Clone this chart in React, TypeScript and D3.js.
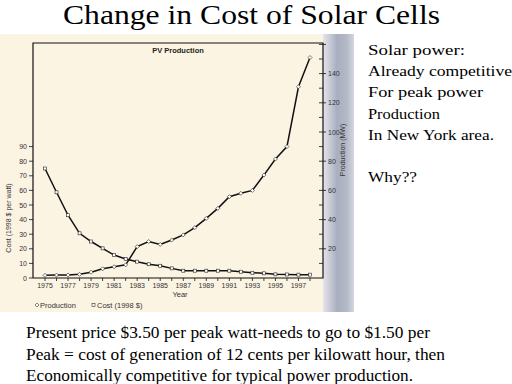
import * as d3 from "d3";

const years = [1975, 1976, 1977, 1978, 1979, 1980, 1981, 1982, 1983, 1984, 1985, 1986,
  1987, 1988, 1989, 1990, 1991, 1992, 1993, 1994, 1995, 1996, 1997, 1998];
const production = [1.8, 2.0, 2.1, 2.5, 4.0, 6.3, 7.7, 9.0, 21.5, 25, 23, 26,
  29.5, 34.5, 40.8, 47.7, 55.7, 58, 60, 70.5, 81.5, 90, 131, 151];
const cost = [75, 58.7, 43, 30.6, 25, 20.3, 15.7, 13, 11.2, 9.4, 8.4, 6.6,
  5, 5, 5, 5, 5, 4.3, 3.6, 3.2, 2.5, 2.4, 2.3, 2.3];
const yearLabels = [1975, 1977, 1979, 1981, 1983, 1985, 1987, 1989, 1991, 1993, 1995, 1997];
const costTicks = [0, 10, 20, 30, 40, 50, 60, 70, 80, 90];
const prodTicks = [20, 40, 60, 80, 100, 120, 140];
const sideNotes = ["Solar power:", "Already competitive", "For peak power", "Production", "In New York area.", "", "Why??"];
const sideWidths = [97, 144, 115, 72, 126, 0, 49];
const footNotes = [
  "Present price $3.50 per peak watt-needs to go to $1.50 per",
  "Peak = cost of generation of 12 cents per kilowatt hour, then",
  "Economically competitive for typical power production.",
];
const footWidths = [404, 419, 387];

const serif = "'Liberation Serif', 'Times New Roman', serif";
const sans = "'Liberation Sans', Arial, sans-serif";

export default function App() {
  const left = 33, right = 323, top = 43, bottom = 278;
  const x = d3.scaleLinear().domain([1975, 1998]).range([45, 310]);
  const yCost = d3.scaleLinear().domain([0, 90]).range([bottom, bottom - 9 * 14.6]);
  const yProd = d3.scaleLinear().domain([0, 160]).range([bottom, bottom - 16 * 14.6]);

  const prodLine = d3.line<number>().x((d, i) => x(years[i])).y(d => yProd(d));
  const costLine = d3.line<number>().x((d, i) => x(years[i])).y(d => yCost(d));
  const minorProd = d3.range(10, 161, 10);

  return (
    <svg width={512} height={384} style={{ position: "absolute", left: 0, top: 0, background: "#fff" }}>
      <defs>
        <linearGradient id="strip" x1="0" x2="1" y1="0" y2="0">
          <stop offset="0" stopColor="#e6e4ec" />
          <stop offset="0.45" stopColor="#a9afc0" />
          <stop offset="0.75" stopColor="#b3b8c7" />
          <stop offset="1" stopColor="#d3d6de" />
        </linearGradient>
      </defs>
      <text x={63} y={24} fontFamily={serif} fontSize={27} fill="#000"
        textLength={377} lengthAdjust="spacingAndGlyphs">Change in Cost of Solar Cells</text>

      <rect x={0} y={34} width={323} height={278} fill="#fcf4e3" />
      <rect x={323} y={34} width={31} height={278} fill="url(#strip)" />

      {/* frame */}
      <path d={`M${left},${bottom}V${top}H${right}V${bottom}H${left}`} fill="none" stroke="#111" strokeWidth={1.2} />

      <text x={178} y={53} textAnchor="middle" fontFamily={sans} fontWeight="bold" fontSize={7.5} fill="#222">PV Production</text>

      {/* x axis */}
      {years.map(yr => (
        <line key={yr} x1={x(yr)} x2={x(yr)} y1={bottom} y2={bottom + 3} stroke="#111" strokeWidth={0.8} />
      ))}
      {yearLabels.map(yr => (
        <text key={yr} x={x(yr)} y={288} textAnchor="middle" fontFamily={sans} fontSize={7} fill="#333">{yr}</text>
      ))}
      <text x={180} y={297} textAnchor="middle" fontFamily={sans} fontSize={7.5} fill="#333">Year</text>

      {/* left axis */}
      {costTicks.map(t => (
        <g key={t}>
          <line x1={left - 4} x2={left} y1={yCost(t)} y2={yCost(t)} stroke="#111" strokeWidth={0.8} />
          <text x={left - 6} y={yCost(t) + 2.5} textAnchor="end" fontFamily={sans} fontSize={7} fill="#333">{t}</text>
        </g>
      ))}
      <text transform="translate(11,218) rotate(-90)" textAnchor="middle" fontFamily={sans} fontSize={7} fill="#333">Cost (1998 $ per watt)</text>

      {/* right axis */}
      {minorProd.map(t => (
        <line key={t} x1={right - 4} x2={t % 20 === 0 ? right + 3 : right} y1={yProd(t)} y2={yProd(t)} stroke="#111" strokeWidth={0.8} />
      ))}
      {prodTicks.map(t => (
        <text key={t} x={right + 5} y={yProd(t) + 2.5} fontFamily={sans} fontSize={7} fill="#333">{t}</text>
      ))}
      <text transform="translate(345,150) rotate(-90)" textAnchor="middle" fontFamily={sans} fontSize={7} fill="#333">Production (MW)</text>

      {/* series */}
      <path d={costLine(cost) ?? ""} fill="none" stroke="#111" strokeWidth={1.5} />
      <path d={prodLine(production) ?? ""} fill="none" stroke="#111" strokeWidth={1.5} />
      {cost.map((v, i) => (
        <rect key={i} x={x(years[i]) - 1.5} y={yCost(v) - 1.5} width={3} height={3} fill="#fff" stroke="#222" strokeWidth={0.6} />
      ))}
      {production.map((v, i) => (
        <path key={i} d={`M${x(years[i])},${yProd(v) - 2}l2,2l-2,2l-2,-2z`} fill="#fff" stroke="#222" strokeWidth={0.6} />
      ))}

      {/* legend */}
      <path d="M37,303l2,2l-2,2l-2,-2z" fill="#fff" stroke="#333" strokeWidth={0.6} />
      <text x={40} y={308} fontFamily={sans} fontSize={7.5} fill="#333">Production</text>
      <rect x={92} y={303.5} width={3} height={3} fill="#fff" stroke="#333" strokeWidth={0.6} />
      <text x={97} y={308} fontFamily={sans} fontSize={7.5} fill="#333">Cost (1998 $)</text>

      {/* notes */}
      {sideNotes.map((s, i) => (s ? (
        <text key={i} x={368} y={55 + i * 21.2} fontFamily={serif} fontSize={15} fill="#000"
          textLength={sideWidths[i]} lengthAdjust="spacingAndGlyphs">{s}</text>
      ) : null))}
      {footNotes.map((s, i) => (
        <text key={i} x={26} y={338 + i * 21.5} fontFamily={serif} fontSize={16} fill="#000"
          textLength={footWidths[i]} lengthAdjust="spacingAndGlyphs">{s}</text>
      ))}
    </svg>
  );
}
